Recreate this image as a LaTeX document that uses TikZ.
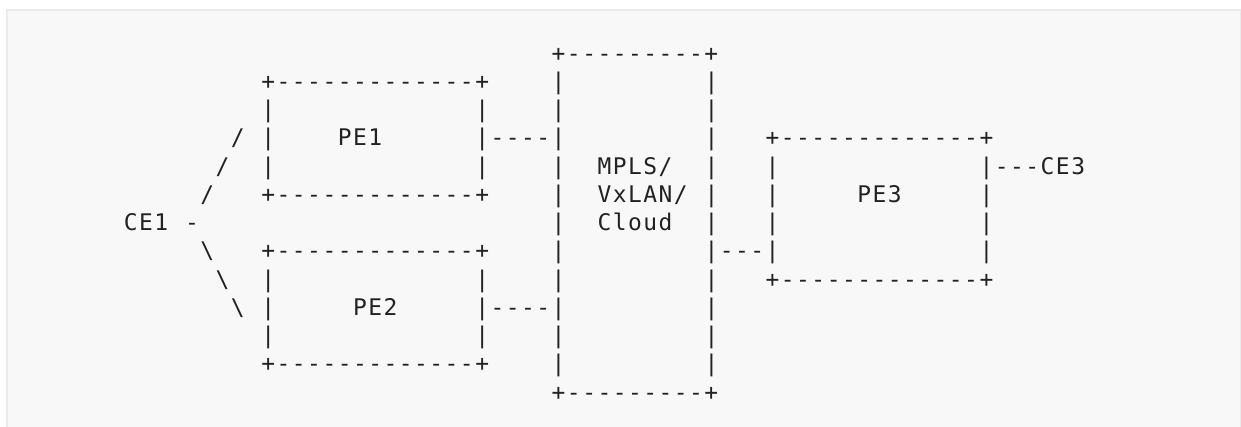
\documentclass[tikz,border=0pt]{standalone}
\usepackage{fontspec}
\setmonofont{DejaVu Sans Mono}[LetterSpace=6.5]
\definecolor{panelfill}{HTML}{F8F8F8}
\definecolor{panelline}{HTML}{EBEBEB}
\definecolor{ink}{HTML}{222222}
\tikzset{asc/.style={font=\ttfamily\fontsize{22.9bp}{27bp}\selectfont,
        text=ink,inner sep=0pt,anchor=base west}}
\begin{document}
\begin{tikzpicture}[x=15.28bp,y=-28.25bp]
    \useasboundingbox (-123.7bp,61.1bp) rectangle (1117.3bp,-365.9bp);
    \filldraw[fill=panelfill,draw=panelline,line width=1.5bp]
        (-116.7bp,51.1bp) rectangle (1116.6bp,-380bp);
    % cloud in the middle
    \node[asc] (cloudtop) at (28,0) {+---------+};
    \node[asc] (cloudbot) at (28,12) {+---------+};
    \foreach \r in {1,...,11}
    {
        \node[asc] (cloudl-\r) at (28,\r) {|};
        \node[asc] (cloudr-\r) at (38,\r) {|};
    }
    \node[asc] (mpls) at (31,4) {MPLS/};
    \node[asc] (vxlan) at (31,5) {VxLAN/};
    \node[asc] (cloud) at (31,6) {Cloud};
    % PE1 and PE2
    \foreach \n/\t in {pe1/1,pe2/7}
    {
        \node[asc] (\n top) at (9,\t) {+-------------+};
        \node[asc] (\n bot) at (9,\t+4) {+-------------+};
        \foreach \r in {1,2,3}
        {
            \node[asc] (\n l-\r) at (9,\t+\r) {|};
            \node[asc] (\n r-\r) at (23,\t+\r) {|};
        }
    }
    \node[asc] (pe1) at (14,3) {PE1};
    \node[asc] (pe2) at (15,9) {PE2};
    % PE3
    \node[asc] (pe3top) at (42,3) {+-------------+};
    \node[asc] (pe3bot) at (42,8) {+-------------+};
    \foreach \r in {4,...,7}
    {
        \node[asc] (pe3l-\r) at (42,\r) {|};
        \node[asc] (pe3r-\r) at (56,\r) {|};
    }
    \node[asc] (pe3) at (48,5) {PE3};
    % links
    \node[asc] (link1) at (24,3) {----};
    \node[asc] (link2) at (24,9) {----};
    \node[asc] (link3) at (39,7) {---};
    \node[asc] (link4) at (57,4) {---};
    \node[asc] (ce3) at (60,4) {CE3};
    \node[asc] (ce1) at (0,6) {CE1};
    \node[asc] (ce1dash) at (4,6) {-};
    \foreach \c/\r in {7/3,6/4,5/5}
        \node[asc] (up-\r) at (\c,\r) {/};
    \foreach \c/\r in {5/7,6/8,7/9}
        \node[asc] (down-\r) at (\c,\r) {\textbackslash};
\end{tikzpicture}
\end{document}
